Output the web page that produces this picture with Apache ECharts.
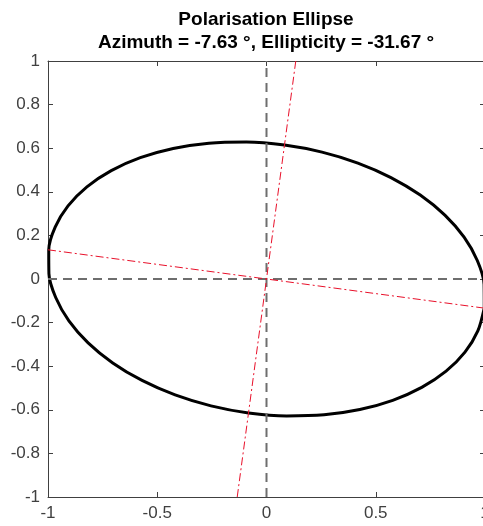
<!DOCTYPE html>
<html>
<head>
<meta charset="utf-8">
<title>Polarisation Ellipse</title>
<script src="https://cdn.jsdelivr.net/npm/echarts@6/dist/echarts.min.js"></script>
<style>
  html, body { margin: 0; padding: 0; background: #ffffff; }
  #chart { width: 483px; height: 526px; }
</style>
</head>
<body>
<div id="chart"></div>
<script>
// ellipse outline (x, y pairs going round once)
const ellipseX = [0.9966, 0.9958, 0.9647, 0.9043, 0.8164, 0.7037, 0.5696, 0.4182, 0.2541, 0.0823,
  -0.0920, -0.2635, -0.4270, -0.5776, -0.7105, -0.8219, -0.9083, -0.9672, -0.9966,
  -0.9958, -0.9647, -0.9043, -0.8164, -0.7037, -0.5696, -0.4182, -0.2541, -0.0823,
  0.0920, 0.2635, 0.4270, 0.5776, 0.7105, 0.8219, 0.9083, 0.9672, 0.9966];
const ellipseY = [-0.1335, -0.0248, 0.0847, 0.1916, 0.2927, 0.3849, 0.4654, 0.5318, 0.5820, 0.6145,
  0.6284, 0.6231, 0.5989, 0.5566, 0.4973, 0.4229, 0.3356, 0.2382, 0.1335,
  0.0248, -0.0847, -0.1916, -0.2927, -0.3849, -0.4654, -0.5318, -0.5820, -0.6145,
  -0.6284, -0.6231, -0.5989, -0.5566, -0.4973, -0.4229, -0.3356, -0.2382, -0.1335];

// grey dashed reference axes through the origin
const horizX = [-1, 1];
const horizY = [0, 0];
const vertX = [0, 0];
const vertY = [-1, 1];

// red dash-dot major / minor axes of the ellipse
const majorX = [-1, 1];
const majorY = [0.134, -0.134];
const minorX = [-0.134, 0.134];
const minorY = [-1, 1];

const xTicks = [-1, -0.5, 0, 0.5, 1];
const yTicks = [-1, -0.8, -0.6, -0.4, -0.2, 0, 0.2, 0.4, 0.6, 0.8, 1];

const titleText = "Polarisation Ellipse\nAzimuth = -7.63 °, Ellipticity = -31.67 °";

function pairs(xs, ys) {
  return xs.map((x, i) => [x, ys[i]]);
}

const font = "'Liberation Sans', Arial, Helvetica, sans-serif";
const axisColor = "#404040";

let myChart = echarts.init(document.getElementById("chart"));

function axisBase(ticks, show) {
  return {
    type: "value",
    min: ticks[0],
    max: ticks[ticks.length - 1],
    interval: Math.round((ticks[1] - ticks[0]) * 1000) / 1000,
    axisLine: { show: true, onZero: false, lineStyle: { color: axisColor, width: 1 } },
    axisTick: { show: true, inside: true, length: 5, lineStyle: { color: axisColor } },
    axisLabel: {
      show: show,
      color: axisColor,
      fontSize: 17,
      fontFamily: font,
      margin: 8,
      formatter: (v) => String(Math.round(v * 1000) / 1000),
    },
    splitLine: { show: false },
  };
}

let options = {
  animation: false,
  backgroundColor: "#ffffff",
  title: {
    text: titleText,
    left: 266,
    top: 8,
    padding: 0,
    textAlign: "center",
    textStyle: {
      fontFamily: font,
      fontSize: 19,
      fontWeight: "bold",
      color: "#000000",
      lineHeight: 23,
    },
  },
  grid: {
    left: 48,
    top: 61,
    width: 437,
    height: 436,
    containLabel: false,
    outerBoundsMode: "none",
  },
  xAxis: [
    Object.assign(axisBase(xTicks, true), { position: "bottom" }),
    Object.assign(axisBase(xTicks, false), { position: "top" }),
  ],
  yAxis: [
    Object.assign(axisBase(yTicks, true), { position: "left" }),
    Object.assign(axisBase(yTicks, false), { position: "right" }),
  ],
  series: [
    {
      name: "ellipse",
      type: "line",
      data: pairs(ellipseX, ellipseY),
      smooth: 0.3,
      clip: false,
      symbol: "none",
      lineStyle: { color: "#000000", width: 3 },
    },
    {
      type: "line",
      data: pairs(horizX, horizY),
      symbol: "none",
      lineStyle: { color: "#6e6e6e", width: 2, type: [9, 6] },
    },
    {
      type: "line",
      data: pairs(vertX, vertY),
      symbol: "none",
      lineStyle: { color: "#6e6e6e", width: 2, type: [9, 6] },
    },
    {
      type: "line",
      data: pairs(majorX, majorY),
      symbol: "none",
      lineStyle: { color: "#e8102a", width: 1, type: [8, 3, 2, 3] },
    },
    {
      type: "line",
      data: pairs(minorX, minorY),
      symbol: "none",
      lineStyle: { color: "#e8102a", width: 1, type: [8, 3, 2, 3] },
    },
  ],
};

myChart.setOption(options);
</script>
</body>
</html>
